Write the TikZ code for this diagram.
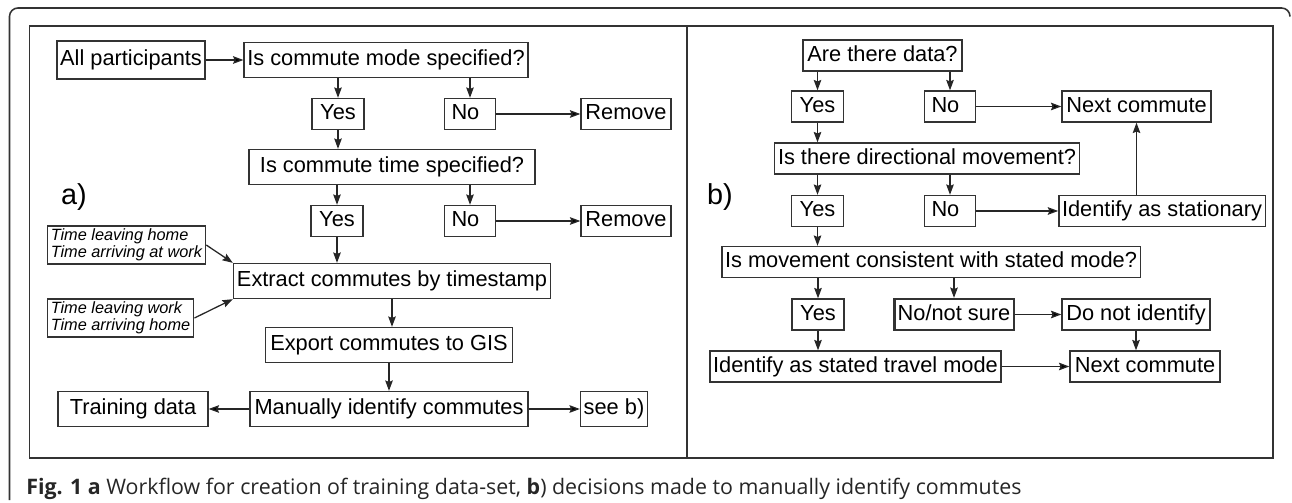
\documentclass[tikz,border=0pt]{standalone}
\usepackage{fontspec}
\setmainfont{Liberation Sans}
\newfontfamily\capfont{Open Sans}
\usepackage{tikz}
\usetikzlibrary{arrows,arrows.meta}
\tikzset{
  box/.style={draw=black!80, line width=0.95pt, inner xsep=0.08cm, inner ysep=3.6pt, text height=11.6pt, text depth=3.3pt, font=\fontsize{15.5}{18}\selectfont},
  big/.style={minimum height=0.875cm},
  nobox/.style={box, inner xsep=0.17cm, text width=0.925cm, align=left},
  timebox/.style={draw=black!80, line width=0.95pt, anchor=west, inner xsep=0.09cm, inner ysep=0.07cm, align=left, font=\fontsize{11.6}{12.4}\selectfont\itshape},
  arr/.style={-{Stealth[length=0.26cm,width=0.19cm,inset=0.04cm]}, line width=0.9pt, draw=black!85},
  frame/.style={draw=black!80, line width=1.1pt},
  tag/.style={font=\fontsize{20.5}{24}\selectfont}
}
\begin{document}
\begin{tikzpicture}[x=0.025cm,y=-0.025cm]
  \useasboundingbox (0,0) rectangle (1292,503);
  \draw[frame,rounded corners=6pt] (9.5,500) -- (9.5,8) -- (1290,8) -- (1290,16);
  \draw[frame] (29.5,26) rectangle (1273,458);
  \draw[frame] (687,26) -- (687,458);

  \draw (131,60) node[box,minimum height=0.95cm] (allp) {All participants};
  \draw (386,60) node[box,big,minimum width=7.075cm] (mode) {Is commute mode specified?};
  \draw (338,114) node[box,minimum width=1.3cm] (yesa) {Yes};
  \draw (470,114) node[nobox] (noa) {No};
  \draw (626,114) node[box,minimum width=2.25cm] (rema) {Remove};
  \draw (392,167) node[box,big,minimum width=7.15cm] (time) {Is commute time specified?};
  \draw (337,221) node[box,minimum width=1.3cm] (yesb) {Yes};
  \draw (470,221) node[nobox] (nob) {No};
  \draw (626,221) node[box,minimum width=2.25cm] (remb) {Remove};
  \draw (74,197) node[tag] (taga) {a)};
  \draw (46.5,245) node[timebox] (homework) {Time leaving home\\Time arriving at work};
  \draw (46.5,318) node[timebox] (workhome) {Time leaving work\\Time arriving home};
  \draw (392,281) node[box,big,minimum width=7.925cm] (extract) {Extract commutes by timestamp};
  \draw (389,345) node[box,big,minimum width=6.175cm] (export) {Export commutes to GIS};
  \draw (389,409) node[box,big,minimum width=6.95cm] (manual) {Manually identify commutes};
  \draw (133,409) node[box,big,minimum width=3.75cm] (training) {Training data};
  \draw (614,409) node[box,big,minimum width=1.625cm] (seeb) {see b)};

  \path[arr] (allp) edge (mode);
  \draw[arr] (mode.south -| yesa) -- (yesa);
  \draw[arr] (mode.south -| noa) -- (noa);
  \path[arr] (noa) edge (rema);
  \draw[arr] (yesa) -- (yesa |- time.north);
  \draw[arr] (time.south -| yesb) -- (yesb);
  \draw[arr] (time.south -| nob) -- (nob);
  \path[arr] (nob) edge (remb);
  \draw[arr] (yesb) -- (yesb |- extract.north);
  \draw[arr] (homework.east) -- (extract.north west);
  \draw[arr] (workhome.east) -- (extract.south west);
  \draw[arr] (extract) -- (extract |- export.north);
  \draw[arr] (export) -- (export |- manual.north);
  \path[arr] (manual) edge (training);
  \path[arr] (manual) edge (seeb);

  \draw (720,197) node[tag] (tagb) {b)};
  \draw (882.5,55.5) node[box,minimum width=3.975cm] (data) {Are there data?};
  \draw (817.5,106.5) node[box,minimum width=1.3cm] (yesc) {Yes};
  \draw (950,106.5) node[nobox] (noc) {No};
  \draw (1136.5,106.5) node[box,minimum width=3.725cm] (nexta) {Next commute};
  \draw (927,158.5) node[box,minimum width=7.55cm] (move) {Is there directional movement?};
  \draw (817.5,211) node[box,minimum width=1.3cm] (yesd) {Yes};
  \draw (950,211) node[nobox] (nod) {No};
  \draw (1162,211) node[box,minimum width=5cm] (still) {Identify as stationary};
  \draw (931,262) node[box,minimum width=10.35cm] (consistent) {Is movement consistent with stated mode?};
  \draw (818,314.5) node[box,minimum width=1.3cm] (yese) {Yes};
  \draw (954,314.5) node[box,line width=1.5pt,minimum width=2.9cm] (unsure) {No/not sure};
  \draw (1136,314.5) node[box,minimum width=3.7cm] (skip) {Do not identify};
  \draw (855.5,366.5) node[box,minimum width=7.225cm] (stated) {Identify as stated travel mode};
  \draw (1145,366.5) node[box,minimum width=3.75cm] (nextb) {Next commute};

  \draw[arr] (data.south -| yesc) -- (yesc);
  \draw[arr] (data.south -| noc) -- (noc);
  \path[arr] (noc) edge (nexta);
  \draw[arr] (yesc) -- (yesc |- move.north);
  \draw[arr] (move.south -| yesd) -- (yesd);
  \draw[arr] (move.south -| nod) -- (nod);
  \path[arr] (nod) edge (still);
  \draw[arr] (still.north -| nexta) -- (nexta);
  \draw[arr] (yesd) -- (yesd |- consistent.north);
  \draw[arr] (consistent.south -| yese) -- (yese);
  \draw[arr] (consistent.south -| unsure) -- (unsure);
  \path[arr] (unsure) edge (skip);
  \draw[arr] (yese) -- (yese |- stated.north);
  \draw[arr] (skip) -- (skip |- nextb.north);
  \path[arr] (stated) edge (nextb);

  \draw (26,489) node[anchor=west,inner sep=0pt,text=black!85,font=\capfont\fontsize{15.2}{18}\selectfont] (caption) {\textbf{Fig. 1 a} Workflow for creation of training data-set, \textbf{b}) decisions made to manually identify commutes};
\end{tikzpicture}
\end{document}
